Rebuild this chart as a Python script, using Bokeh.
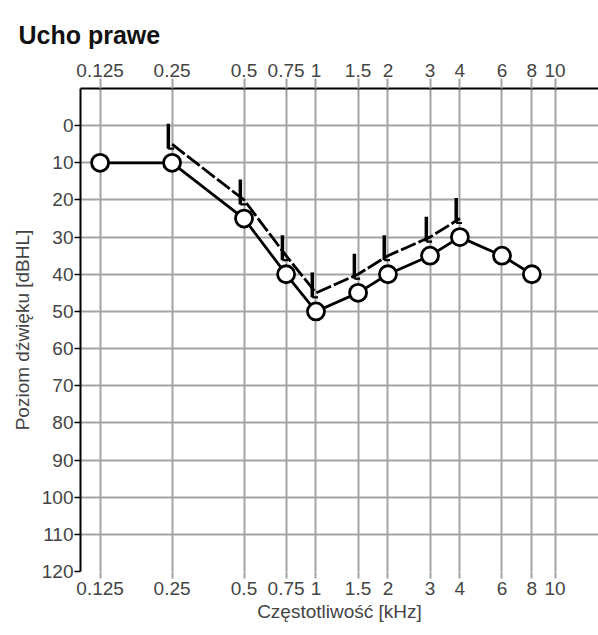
from bokeh.plotting import figure
from bokeh.models import LogAxis, FixedTicker, CustomJSTickFormatter, Range1d
from bokeh.embed import file_html
from bokeh.resources import INLINE

# Data
freq_ticks = [0.125, 0.25, 0.5, 0.75, 1, 1.5, 2, 3, 4, 6, 8, 10]
db_ticks = list(range(0, 121, 10))

air_freq = [0.125, 0.25, 0.5, 0.75, 1, 1.5, 2, 3, 4, 6, 8]
air_db = [10, 10, 25, 40, 50, 45, 40, 35, 30, 35, 40]

bone_freq = [0.25, 0.5, 0.75, 1, 1.5, 2, 3, 4]
bone_db = [5, 20, 35, 45, 40, 35, 30, 25]

FONT = "Liberation Sans"
GRID = "#a3a3a3"

p = figure(width=598, height=635, x_axis_type="log",
           x_range=Range1d(0.1035, 15.2), y_range=Range1d(120, -10),
           output_backend="svg", toolbar_location=None,
           min_border_left=80, min_border_right=0, min_border_top=88, min_border_bottom=64)
p.outline_line_color = None
p.background_fill_color = "white"
p.border_fill_color = "white"

p.title.text = "Ucho prawe"
p.title.text_font = FONT
p.title.text_font_size = "25px"
p.title.text_font_style = "bold"
p.title.text_color = "#111111"
p.title.offset = -62
p.title.standoff = 20
p.title.vertical_align = "top"

fmt = CustomJSTickFormatter(code="return String(tick)")

# bottom axis
xa = p.xaxis[0]
xa.ticker = FixedTicker(ticks=freq_ticks, minor_ticks=[])
xa.formatter = fmt
xa.axis_label = "Częstotliwość [kHz]"
xa.axis_label_text_font = FONT
xa.axis_label_text_font_size = "19px"
xa.axis_label_text_font_style = "normal"
xa.axis_label_standoff = 3
xa.major_label_text_font = FONT
xa.major_label_text_font_size = "19px"
xa.major_label_standoff = 3
xa.axis_line_color = None
xa.major_tick_line_color = GRID
xa.major_tick_line_width = 2
xa.major_tick_out = 7
xa.major_tick_in = 0
xa.minor_tick_line_color = None

# top axis
ta = LogAxis(ticker=FixedTicker(ticks=freq_ticks, minor_ticks=[]), formatter=fmt)
ta.major_label_text_font = FONT
ta.major_label_text_font_size = "19px"
ta.major_label_standoff = 2
ta.axis_line_color = "black"
ta.axis_line_width = 2
ta.major_tick_line_color = GRID
ta.major_tick_line_width = 2
ta.major_tick_out = 10
ta.major_tick_in = 0
ta.minor_tick_line_color = None
p.add_layout(ta, "above")

# left axis
ya = p.yaxis[0]
ya.ticker = FixedTicker(ticks=db_ticks, minor_ticks=[])
ya.axis_label = "Poziom dźwięku [dBHL]"
ya.axis_label_text_font = FONT
ya.axis_label_text_font_size = "19px"
ya.axis_label_text_font_style = "normal"
ya.axis_label_standoff = 6
ya.major_label_text_font = FONT
ya.major_label_text_font_size = "19px"
ya.major_label_standoff = 1
ya.axis_line_color = "black"
ya.axis_line_width = 2
ya.major_tick_line_color = "black"
ya.major_tick_line_width = 1.5
ya.major_tick_out = 6
ya.major_tick_in = 0
ya.minor_tick_line_color = None

p.xgrid.ticker = FixedTicker(ticks=freq_ticks, minor_ticks=[])
p.xgrid.grid_line_color = GRID
p.xgrid.grid_line_width = 2
p.ygrid.ticker = FixedTicker(ticks=db_ticks, minor_ticks=[])
p.ygrid.grid_line_color = GRID
p.ygrid.grid_line_width = 2

# air conduction
p.line(air_freq, air_db, line_color="black", line_width=2.8)
p.scatter(air_freq, air_db, marker="circle", size=17, line_color="black",
          line_width=2.8, fill_color="white")

# bone conduction
p.line(bone_freq, bone_db, line_color="black", line_width=2.8, line_dash="16 3")
bx = [f * 0.965 for f in bone_freq]
p.segment(x0=bx, y0=[v - 5.5 for v in bone_db], x1=bx, y1=[v + 1.2 for v in bone_db],
          line_color="black", line_width=3.5)
p.segment(x0=bx, y0=[v + 1.2 for v in bone_db], x1=[f * 1.02 for f in bone_freq],
          y1=[v + 1.2 for v in bone_db], line_color="black", line_width=2.2)

open("out.html", "w").write(file_html(p, INLINE))
